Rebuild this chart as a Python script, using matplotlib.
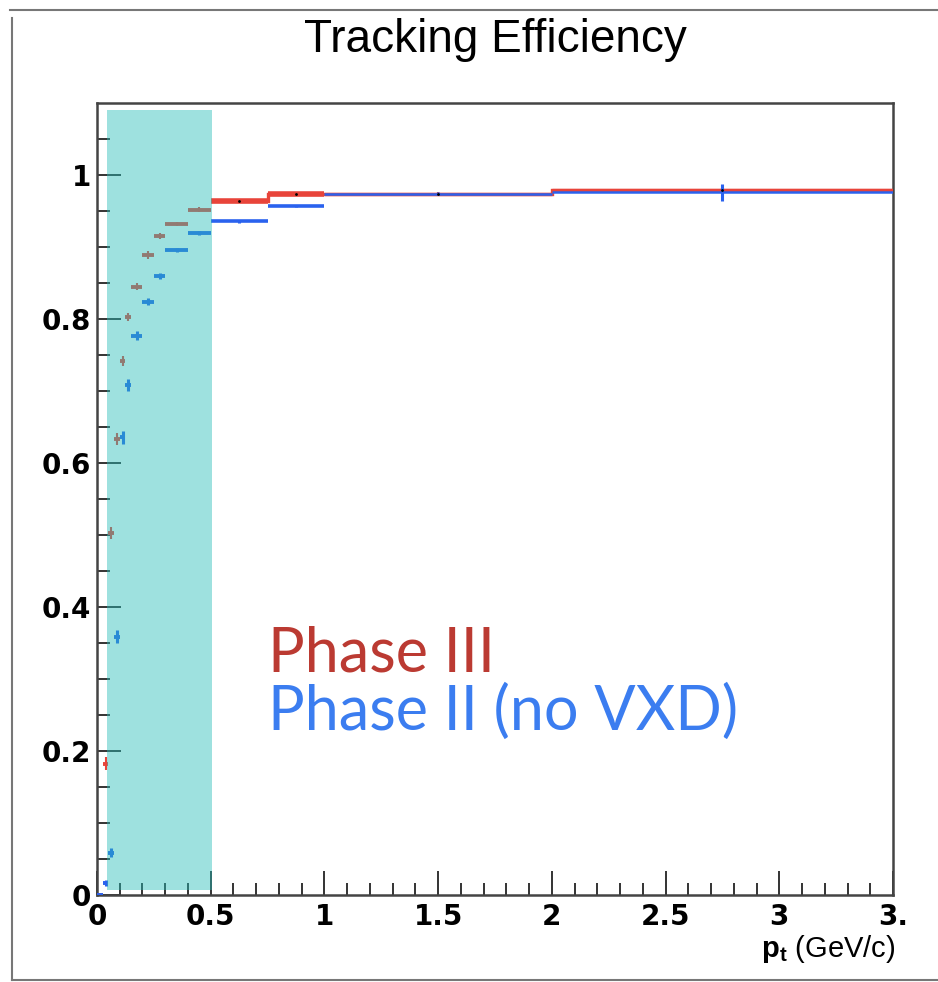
import numpy as np
import matplotlib
matplotlib.use("Agg")
import matplotlib.pyplot as plt
from matplotlib.patches import Rectangle
from matplotlib.lines import Line2D

# transverse momentum bins (GeV/c)
pt_edges = [0, 0.025, 0.05, 0.075, 0.1, 0.125, 0.15, 0.2, 0.25, 0.3, 0.4, 0.5, 0.75, 1.0, 2.0, 3.5]

# efficiency per bin
eff_phase3 = [0.0, 0.182, 0.503, 0.633, 0.742, 0.803, 0.845, 0.889, 0.915, 0.932, 0.952, 0.964, 0.974, 0.974, 0.979]
err_phase3 = [0.002, 0.009, 0.008, 0.008, 0.007, 0.006, 0.005, 0.005, 0.004, 0.003, 0.003, 0.002, 0.002, 0.002, 0.003]
eff_phase2 = [0.0, 0.017, 0.059, 0.359, 0.636, 0.708, 0.777, 0.824, 0.860, 0.896, 0.919, 0.936, 0.957, 0.974, 0.976]
err_phase2 = [0.002, 0.004, 0.006, 0.009, 0.009, 0.008, 0.006, 0.005, 0.004, 0.003, 0.003, 0.002, 0.002, 0.002, 0.012]

# low-pt region highlighted on the plot
band_lo, band_hi = 0.045, 0.505

x_ticks = [0, 0.5, 1, 1.5, 2, 2.5, 3, 3.5]
x_ticklabels = ['0', '0.5', '1', '1.5', '2', '2.5', '3', '3.']
y_ticks = [0, 0.2, 0.4, 0.6, 0.8, 1.0]
y_ticklabels = ['0', '0.2', '0.4', '0.6', '0.8', '1']

red = '#e8443a'
blue = '#2a62ee'

plt.rcParams['mathtext.fontset'] = 'custom'
plt.rcParams['mathtext.rm'] = 'Liberation Sans'
plt.rcParams['mathtext.bf'] = 'Liberation Sans:bold'

W, H = 938, 982
fig = plt.figure(figsize=(W / 100, H / 100), dpi=100)
ax = fig.add_axes([97 / W, 87 / H, 796 / W, 792 / H])

edges = np.array(pt_edges)
lo, hi = edges[:-1], edges[1:]
centers = 0.5 * (lo + hi)
wide = lo >= 0.5

# Phase III: points plus histogram outline above 0.5 GeV/c
lw3 = np.where(lo >= 1.0, 2.4, np.where(wide, 4.0, 2.8))
ax.hlines(eff_phase3, lo, hi, colors=red, linewidths=lw3, zorder=3)
ax.vlines(centers, np.array(eff_phase3) - err_phase3, np.array(eff_phase3) + err_phase3,
          colors=red, linewidths=1.5, zorder=3)
ax.stairs(np.array(eff_phase3)[wide], edges[np.r_[wide, True]], baseline=None,
          color=red, lw=2.4, zorder=3)

# Phase II without VXD
lw2 = np.where(lo >= 1.0, 1.8, np.where(wide, 2.6, 2.8))
ax.hlines(eff_phase2, lo, hi, colors=blue, linewidths=lw2, zorder=4)
ax.vlines(centers, np.array(eff_phase2) - err_phase2, np.array(eff_phase2) + err_phase2,
          colors=blue, linewidths=2.2, zorder=4)

ax.plot(centers[wide], np.array(eff_phase3)[wide], 'k.', ms=2, zorder=4.5)

ax.add_patch(Rectangle((band_lo, 0.007), band_hi - band_lo, 1.083,
                       facecolor='#28bdb8', alpha=0.45, lw=0, zorder=5))

ax.set_xlim(0, 3.5)
ax.set_ylim(0, 1.1)
ax.set_xticks(x_ticks)
ax.set_xticklabels(x_ticklabels)
ax.set_yticks(y_ticks)
ax.set_yticklabels(y_ticklabels)
ax.set_xticks(np.arange(0, 3.51, 0.1), minor=True)
ax.set_yticks(np.arange(0, 1.1, 0.05), minor=True)
ax.tick_params(which='both', direction='in', color='#333333', width=1.4,
               top=False, right=False)
ax.tick_params(which='major', length=17)
ax.tick_params(which='minor', length=9)
ax.tick_params(axis='x', pad=6)
ax.tick_params(axis='y', pad=4)
for lab in ax.get_xticklabels() + ax.get_yticklabels():
    lab.set_fontweight('bold')
    lab.set_fontsize(20)
for s in ax.spines.values():
    s.set_color('#444444')
    s.set_linewidth(1.8)

ax.text(0.753, 0.31, 'Phase III', color='#bb3a32', fontsize=44,
        family='Lato', va='baseline', zorder=6)
ax.text(0.753, 0.229, 'Phase II (no VXD)', color='#3b7df0', fontsize=44,
        family='Lato', va='baseline', zorder=6)

fig.text(0.528, 1 - 52 / H, 'Tracking Efficiency', ha='center', va='baseline',
         fontsize=33, family='Liberation Sans')
fig.text(895 / W, 1 - 957 / H, r'$\mathbf{p}_{\mathbf{t}}$ (GeV/c)', ha='right',
         va='baseline', fontsize=21, family='Liberation Sans')

# page border
for xs, ys in [([10 / W, 1], [1 - 10 / H, 1 - 10 / H]),
               ([12 / W, 12 / W], [2 / H, 1 - 18 / H]),
               ([12 / W, 1], [2 / H, 2 / H])]:
    fig.add_artist(Line2D(xs, ys, transform=fig.transFigure, color='#777777', lw=1.5))

fig.savefig('out.png', dpi=100)
